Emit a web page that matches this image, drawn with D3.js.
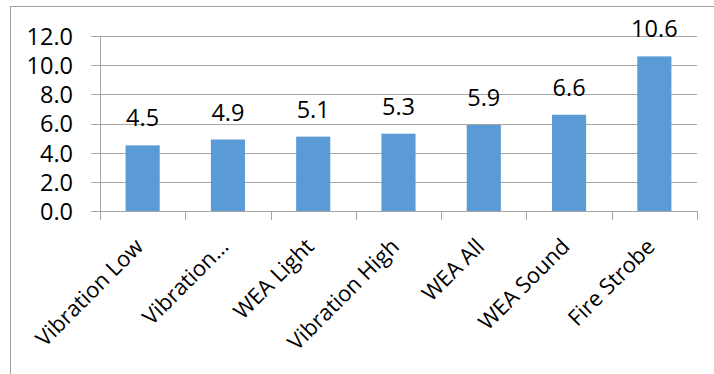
<!DOCTYPE html>
<html><head><meta charset="utf-8">
<script src="https://cdn.jsdelivr.net/npm/d3@7"></script>
<style>html,body{margin:0;padding:0;background:#fff;}svg{display:block;}</style>
</head><body>
<svg id="c" width="714" height="374"></svg>
<script>
const categories = ["Vibration Low","Vibration\u2026","WEA Light","Vibration High","WEA All","WEA Sound","Fire Strobe"];
const values = [4.5, 4.9, 5.1, 5.3, 5.9, 6.6, 10.6];
const yTicks = [0, 2, 4, 6, 8, 10, 12];

const W = 714, H = 374;
const m = {left: 100, right: 17, top: 36, bottom: 163};
const svg = d3.select("#c");
const font = "'Open Sans', sans-serif";
const fs = 23.5;
const grid = "#a6a6a6";

svg.append("rect").attr("x",10.5).attr("y",6.5).attr("width",W).attr("height",H)
  .attr("fill","#fff").attr("stroke","#a0a0a0").attr("stroke-width",1);

const x = d3.scaleBand().domain(categories).range([m.left, W - m.right]).paddingInner(0.6).paddingOuter(0.3);
const xb = d3.scaleBand().domain(categories).range([m.left, W - m.right]);
const y = d3.scaleLinear().domain([0, 12]).range([H - m.bottom, m.top]);

const gy = svg.append("g").attr("transform",`translate(${m.left},0)`)
  .call(d3.axisLeft(y).tickValues(yTicks).tickSize(-(W - m.right - m.left)).tickSizeOuter(0).tickPadding(27).tickFormat(d3.format(".1f")));
gy.select(".domain").remove();
gy.selectAll(".tick line").attr("stroke",grid).attr("x1",-9).attr("shape-rendering","crispEdges");
gy.selectAll(".tick text").attr("font-family",font).attr("font-size",fs).attr("fill","#000").attr("dy","0.36em");

svg.append("line").attr("x1",m.left+0.5).attr("x2",m.left+0.5).attr("y1",y(12)).attr("y2",y(0))
  .attr("stroke",grid).attr("shape-rendering","crispEdges");

svg.append("g").selectAll("rect").data(values).join("rect")
  .attr("x",(d,i)=>x(categories[i])).attr("width",x.bandwidth())
  .attr("y",d=>y(d)).attr("height",d=>y(0)-y(d))
  .attr("fill","#5b9bd5");

svg.append("g").selectAll("text").data(values).join("text")
  .attr("x",(d,i)=>x(categories[i]) + x.bandwidth()/2)
  .attr("y",d=>y(d) - 19)
  .attr("text-anchor","middle").attr("font-family",font).attr("font-size",fs).attr("fill","#000")
  .text(d=>d3.format(".1f")(d));

const gx = svg.append("g").attr("transform",`translate(0,${y(0)})`);
gx.append("line").attr("x1",m.left).attr("x2",W-m.right).attr("y1",0.5).attr("y2",0.5).attr("stroke",grid);
const bounds = categories.map(c=>xb(c)).concat([W - m.right]);
gx.selectAll("line.t").data(bounds).join("line").attr("class","t")
  .attr("x1",d=>Math.round(d)+0.5).attr("x2",d=>Math.round(d)+0.5).attr("y1",0).attr("y2",9).attr("stroke",grid);

gx.selectAll("text").data(categories).join("text")
  .attr("transform",d=>`translate(${xb(d)+xb.bandwidth()/2+2},${37}) rotate(-45)`)
  .attr("text-anchor","end").attr("font-family",font).attr("font-size",22).attr("fill","#000")
  .text(d=>d);
</script>
</body></html>
